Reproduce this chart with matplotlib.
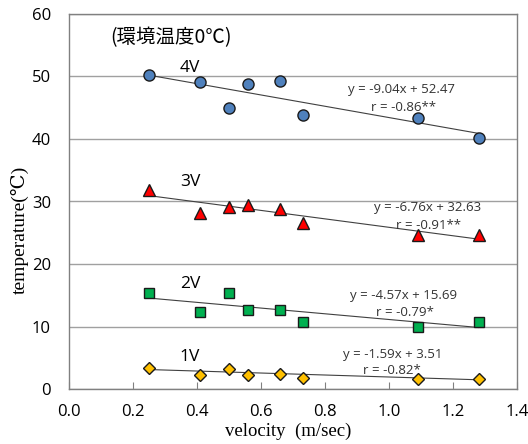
import numpy as np
import matplotlib.pyplot as plt

# velocity (m/sec), shared by all series
velocity = [0.25, 0.41, 0.50, 0.56, 0.66, 0.73, 1.09, 1.28]

# temperature (deg C) for each applied voltage
temp_4v = [50.3, 49.1, 44.9, 48.8, 49.3, 43.8, 43.4, 40.2]
temp_3v = [31.9, 28.1, 29.1, 29.4, 28.8, 26.5, 24.6, 24.6]
temp_2v = [15.3, 12.4, 15.3, 12.6, 12.6, 10.7, 10.0, 10.7]
temp_1v = [3.4, 2.3, 3.2, 2.2, 2.4, 1.8, 1.6, 1.6]

series_names = ['4V', '3V', '2V', '1V']
slopes = [-9.04, -6.76, -4.57, -1.59]
intercepts = [52.47, 32.63, 15.69, 3.51]
r_labels = ['r = -0.86**', 'r = -0.91**', 'r = -0.79*', 'r = -0.82*']

x_ticks = [0.0, 0.2, 0.4, 0.6, 0.8, 1.0, 1.2, 1.4]
y_ticks = [0, 10, 20, 30, 40, 50, 60]

sans = ['Open Sans', 'DejaVu Sans']
cjk = ['Noto Sans CJK JP', 'DejaVu Sans']
serif = ['Liberation Serif', 'DejaVu Serif']

fig = plt.figure(figsize=(5.28, 4.44), dpi=100)
ax = fig.add_axes([69 / 528, 1 - 389 / 444, 448 / 528, 375 / 444])

styles = [
    dict(marker='o', color='#4F81BD', ms=8),
    dict(marker='^', color='#FF0000', ms=9),
    dict(marker='s', color='#00B050', ms=7),
    dict(marker='D', color='#FFC000', ms=6.5),
]
temps = [temp_4v, temp_3v, temp_2v, temp_1v]

# label / equation positions in data coords
name_pos = [(0.378, 51.4), (0.378, 33.1), (0.378, 16.8), (0.378, 5.1)]
eq_pos = [(1.04, 48.0), (1.12, 29.0), (1.047, 14.9), (1.01, 5.5)]
r_pos = [(1.045, 45.1), (1.125, 26.2), (1.05, 12.3), (1.01, 2.9)]

x = np.array(velocity)
xl = np.array([x.min(), x.max()])
for i in range(4):
    st = styles[i]
    # trend line from the reported fit
    ax.plot(xl, slopes[i] * xl + intercepts[i], color='#404040', lw=0.8, zorder=2)
    ax.plot(x, temps[i], linestyle='none', marker=st['marker'], ms=st['ms'],
            markerfacecolor=st['color'], markeredgecolor='#1a1a1a',
            markeredgewidth=1.0, zorder=3)
    ax.text(name_pos[i][0], name_pos[i][1], series_names[i], ha='center', va='center',
            fontsize=12.5, family=sans)
    eq = 'y = %.2fx + %.2f' % (slopes[i], intercepts[i])
    ax.text(eq_pos[i][0], eq_pos[i][1], eq, ha='center', va='center',
            fontsize=9.5, family=sans, color='#333333')
    ax.text(r_pos[i][0], r_pos[i][1], r_labels[i], ha='center', va='center',
            fontsize=9.5, family=sans, color='#333333')

ax.text(0.32, 56.2, '(環境温度0℃)', ha='center', va='center', fontsize=14, family=cjk)

ax.set_xlim(0, 1.4)
ax.set_ylim(0, 60)
ax.set_xticks(x_ticks)
ax.set_yticks(y_ticks)
ax.set_xticklabels(['%.1f' % v for v in x_ticks], family=sans, fontsize=12)
ax.set_yticklabels([str(v) for v in y_ticks], family=sans, fontsize=12)
ax.tick_params(axis='x', direction='in', length=5, color='#808080', pad=11)
ax.tick_params(axis='y', length=0, pad=13)

ax.grid(axis='y', color='#A0A0A0', lw=1.0)
ax.set_axisbelow(True)
for s in ax.spines.values():
    s.set_color('#808080')
    s.set_linewidth(1.0)

ax.set_ylabel('temperature(℃)', family=serif, fontsize=14)
ax.yaxis.set_label_coords(-0.109, 0.424)
ax.set_xlabel('velocity  (m/sec)', family=serif, fontsize=13.5)
ax.xaxis.set_label_coords(0.489, -0.112)
ax.xaxis.label.set_va('center')
ax.yaxis.label.set_va('center')

fig.savefig('out.png', dpi=100)
